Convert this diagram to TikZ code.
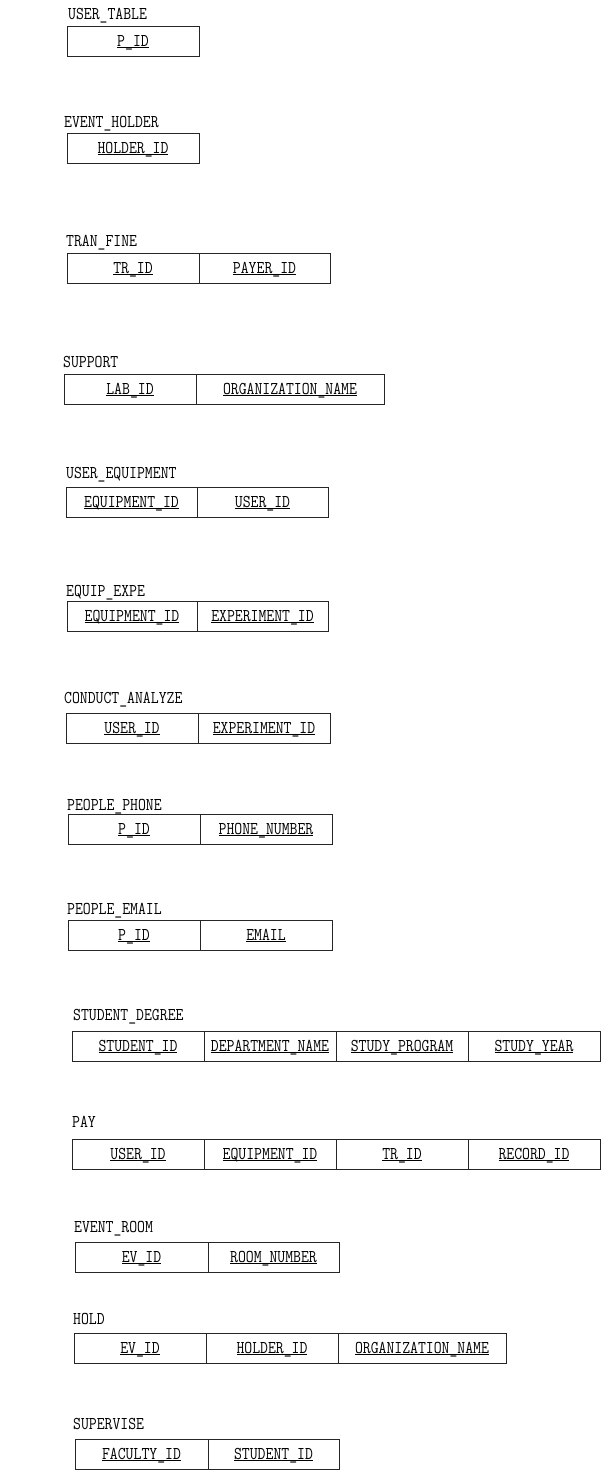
\documentclass[tikz,border=0pt]{standalone}
\usepackage{fontspec}
\setmainfont{Latin Modern Mono}[FakeStretch=0.85]
\newcommand\keyul[1]{\setbox0\hbox{#1}\rlap{\rule[-1.6pt]{\wd0}{0.7pt}}\box0}
\begin{document}
\begin{tikzpicture}[x=1pt,y=-1pt,
  every node/.style={font=\fontsize{18}{21}\selectfont},
  tlabel/.style={anchor=base west,inner sep=0pt},
  cell/.style={draw=black!85,line width=0.9pt,anchor=north west,inner sep=0pt,outer sep=0pt,
    minimum height=30pt,text height=11pt,text depth=0pt},
  nxt/.style={cell,anchor=north west}
]
\useasboundingbox[fill=white] (0,0) rectangle (601,1471);

% USER_TABLE
\node[tlabel] (lut) at (68,20) {USER\_TABLE};
\node[cell,minimum width=132pt] (ut1) at (67,26) {\keyul{P\_ID}};

% EVENT_HOLDER
\node[tlabel] (leh) at (64,128) {EVENT\_HOLDER};
\node[cell,minimum width=132pt] (eh1) at (67,133) {\keyul{HOLDER\_ID}};

% TRAN_FINE
\node[tlabel] (ltf) at (66,247) {TRAN\_FINE};
\node[cell,minimum width=132pt] (tf1) at (67,253) {\keyul{TR\_ID}};
\node[nxt,minimum width=131pt] (tf2) at (tf1.north east) {\keyul{PAYER\_ID}};

% SUPPORT
\node[tlabel] (lsu) at (63,367) {SUPPORT};
\node[cell,minimum width=132pt] (su1) at (64,374) {\keyul{LAB\_ID}};
\node[nxt,minimum width=188pt] (su2) at (su1.north east) {\keyul{ORGANIZATION\_NAME}};

% USER_EQUIPMENT
\node[tlabel] (lue) at (66,478) {USER\_EQUIPMENT};
\node[cell,minimum width=131pt] (ue1) at (66,487) {\keyul{EQUIPMENT\_ID}};
\node[nxt,minimum width=131pt] (ue2) at (ue1.north east) {\keyul{USER\_ID}};

% EQUIP_EXPE
\node[tlabel] (lee) at (66,596) {EQUIP\_EXPE};
\node[cell,minimum width=130pt] (ee1) at (67,601) {\keyul{EQUIPMENT\_ID}};
\node[nxt,minimum width=131pt] (ee2) at (ee1.north east) {\keyul{EXPERIMENT\_ID}};

% CONDUCT_ANALYZE
\node[tlabel] (lca) at (64,703) {CONDUCT\_ANALYZE};
\node[cell,minimum width=132pt] (ca1) at (66,713) {\keyul{USER\_ID}};
\node[nxt,minimum width=132pt] (ca2) at (ca1.north east) {\keyul{EXPERIMENT\_ID}};

% PEOPLE_PHONE
\node[tlabel] (lpp) at (67,810) {PEOPLE\_PHONE};
\node[cell,minimum width=132pt] (pp1) at (68,814) {\keyul{P\_ID}};
\node[nxt,minimum width=132pt] (pp2) at (pp1.north east) {\keyul{PHONE\_NUMBER}};

% PEOPLE_EMAIL
\node[tlabel] (lpe) at (67,914) {PEOPLE\_EMAIL};
\node[cell,minimum width=132pt] (pe1) at (68,920) {\keyul{P\_ID}};
\node[nxt,minimum width=132pt] (pe2) at (pe1.north east) {\keyul{EMAIL}};

% STUDENT_DEGREE
\node[tlabel] (lsd) at (73,1020) {STUDENT\_DEGREE};
\node[cell,minimum width=132pt] (sd1) at (72,1031) {\keyul{STUDENT\_ID}};
\node[nxt,minimum width=132pt] (sd2) at (sd1.north east) {\keyul{DEPARTMENT\_NAME}};
\node[nxt,minimum width=132pt] (sd3) at (sd2.north east) {\keyul{STUDY\_PROGRAM}};
\node[nxt,minimum width=132pt] (sd4) at (sd3.north east) {\keyul{STUDY\_YEAR}};

% PAY
\node[tlabel] (lpa) at (72,1127) {PAY};
\node[cell,minimum width=132pt] (pa1) at (72,1139) {\keyul{USER\_ID}};
\node[nxt,minimum width=132pt] (pa2) at (pa1.north east) {\keyul{EQUIPMENT\_ID}};
\node[nxt,minimum width=132pt] (pa3) at (pa2.north east) {\keyul{TR\_ID}};
\node[nxt,minimum width=132pt] (pa4) at (pa3.north east) {\keyul{RECORD\_ID}};

% EVENT_ROOM
\node[tlabel] (ler) at (74,1232) {EVENT\_ROOM};
\node[cell,minimum width=133pt] (er1) at (75,1242) {\keyul{EV\_ID}};
\node[nxt,minimum width=131pt] (er2) at (er1.north east) {\keyul{ROOM\_NUMBER}};

% HOLD
\node[tlabel] (lho) at (73,1324) {HOLD};
\node[cell,minimum width=132pt] (ho1) at (74,1333) {\keyul{EV\_ID}};
\node[nxt,minimum width=132pt] (ho2) at (ho1.north east) {\keyul{HOLDER\_ID}};
\node[nxt,minimum width=168pt] (ho3) at (ho2.north east) {\keyul{ORGANIZATION\_NAME}};

% SUPERVISE
\node[tlabel] (lsv) at (73,1429) {SUPERVISE};
\node[cell,minimum width=133pt] (sv1) at (75,1439) {\keyul{FACULTY\_ID}};
\node[nxt,minimum width=131pt] (sv2) at (sv1.north east) {\keyul{STUDENT\_ID}};
\end{tikzpicture}
\end{document}
